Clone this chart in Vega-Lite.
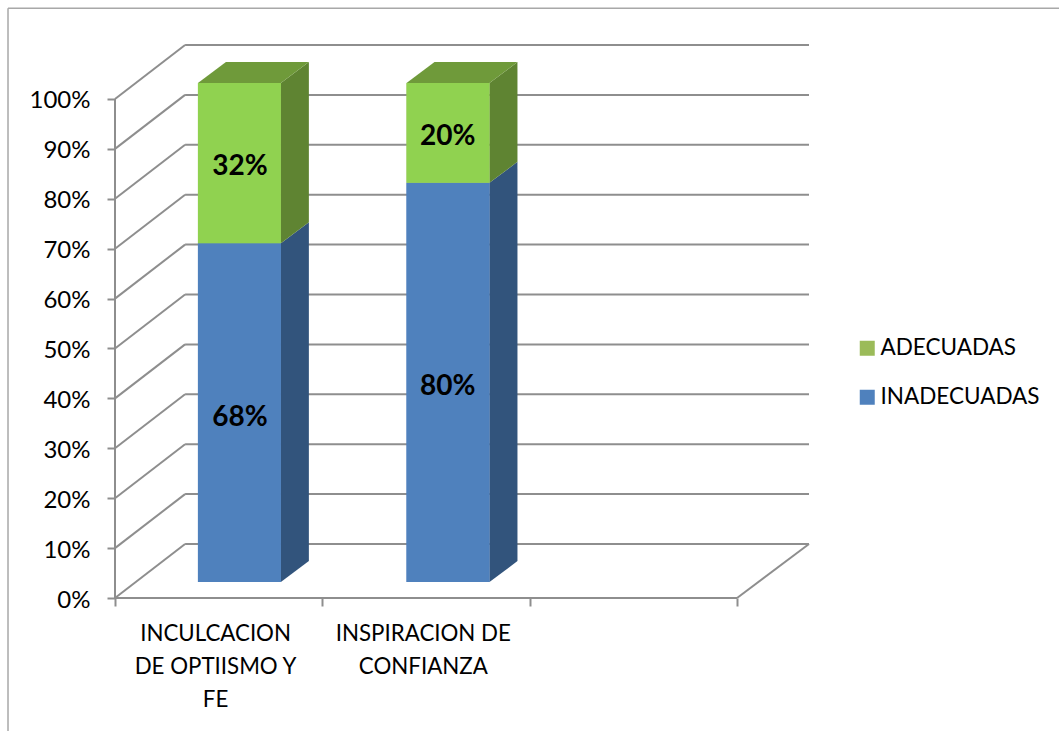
{
"$schema":"https://vega.github.io/schema/vega-lite/v6.json",
"width":694,"height":553,"autosize":"none",
"padding":{"left":115,"top":45,"right":250,"bottom":133},
"background":"white",
"view":{"stroke":null},
"config":{"font":"Lato"},
"datasets":{
"frame":[{"x":-0.516,"x2":-0.516,"y":118.2,"y2":-26.7},{"x":-0.516,"x2":4.553,"y":118.2,"y2":118.2}],
"lines":[
{"x":0,"x2":0,"y":0,"y2":100},{"x":0,"x2":3,"y":0,"y2":0},{"x":3,"x2":3.347,"y":0,"y2":10.82},
{"x":0,"x2":0.338,"y":0,"y2":10.82},{"x":0,"x2":0.338,"y":10,"y2":20.82},{"x":0,"x2":0.338,"y":20,"y2":30.82},{"x":0,"x2":0.338,"y":30,"y2":40.82},{"x":0,"x2":0.338,"y":40,"y2":50.82},{"x":0,"x2":0.338,"y":50,"y2":60.82},{"x":0,"x2":0.338,"y":60,"y2":70.82},{"x":0,"x2":0.338,"y":70,"y2":80.82},{"x":0,"x2":0.338,"y":80,"y2":90.82},{"x":0,"x2":0.338,"y":90,"y2":100.82},{"x":0,"x2":0.338,"y":100,"y2":110.82},
{"x":0.338,"x2":3.347,"y":10.82,"y2":10.82},{"x":0.338,"x2":3.347,"y":20.82,"y2":20.82},{"x":0.338,"x2":3.347,"y":30.82,"y2":30.82},{"x":0.338,"x2":3.347,"y":40.82,"y2":40.82},{"x":0.338,"x2":3.347,"y":50.82,"y2":50.82},{"x":0.338,"x2":3.347,"y":60.82,"y2":60.82},{"x":0.338,"x2":3.347,"y":70.82,"y2":70.82},{"x":0.338,"x2":3.347,"y":80.82,"y2":80.82},{"x":0.338,"x2":3.347,"y":90.82,"y2":90.82},{"x":0.338,"x2":3.347,"y":100.82,"y2":100.82},{"x":0.338,"x2":3.347,"y":110.82,"y2":110.82}
],
"sides":[
{"bar":"a1","face":"INADECUADAS lado","x":0.8,"y":3.2,"y2":71.1},{"bar":"a1","face":"INADECUADAS lado","x":0.935,"y":7.4,"y2":75.3},
{"bar":"a2","face":"ADECUADAS lado","x":0.8,"y":71.1,"y2":103.2},{"bar":"a2","face":"ADECUADAS lado","x":0.935,"y":75.3,"y2":107.4},
{"bar":"b1","face":"INADECUADAS lado","x":1.806,"y":3.2,"y2":83.2},{"bar":"b1","face":"INADECUADAS lado","x":1.941,"y":7.4,"y2":87.4},
{"bar":"b2","face":"ADECUADAS lado","x":1.806,"y":83.2,"y2":103.2},{"bar":"b2","face":"ADECUADAS lado","x":1.941,"y":87.4,"y2":107.4}
],
"tops":[
{"bar":"a","face":"ADECUADAS techo","y":103.2,"x":0.4,"x2":0.8},{"bar":"a","face":"ADECUADAS techo","y":107.4,"x":0.535,"x2":0.935},
{"bar":"b","face":"ADECUADAS techo","y":103.2,"x":1.406,"x2":1.806},{"bar":"b","face":"ADECUADAS techo","y":107.4,"x":1.541,"x2":1.941}
],
"fronts":[
{"categoria":"INCULCACION DE OPTIISMO Y FE","serie":"INADECUADAS","face":"INADECUADAS frente","x":0.4,"x2":0.8,"y":3.2,"y2":71.1},
{"categoria":"INCULCACION DE OPTIISMO Y FE","serie":"ADECUADAS","face":"ADECUADAS frente","x":0.4,"x2":0.8,"y":71.1,"y2":103.2},
{"categoria":"INSPIRACION DE CONFIANZA","serie":"INADECUADAS","face":"INADECUADAS frente","x":1.406,"x2":1.806,"y":3.2,"y2":83.2},
{"categoria":"INSPIRACION DE CONFIANZA","serie":"ADECUADAS","face":"ADECUADAS frente","x":1.406,"x2":1.806,"y":83.2,"y2":103.2}
],
"values":[
{"t":"68%","x":0.603,"y":36.0},{"t":"32%","x":0.603,"y":86.3},{"t":"80%","x":1.605,"y":42.2},{"t":"20%","x":1.605,"y":92.3}
],
"cats":[
{"t":"INCULCACION|DE OPTIISMO Y|FE","x":0.485,"y":-8.62},{"t":"INSPIRACION DE|CONFIANZA","x":1.487,"y":-8.62}
]
},
"encoding":{
"x":{"field":"x","type":"quantitative","title":null,"scale":{"domain":[0,3.347],"nice":false,"zero":false},
"axis":{"values":[0,1,2,3],"labels":false,"domain":false,"grid":false,"ticks":true,"tickSize":8,"tickColor":"#8e8e8e","tickWidth":2,"title":null}},
"y":{"field":"y","type":"quantitative","title":null,"scale":{"domain":[0,110.82],"nice":false,"zero":false},
"axis":{"values":[0,10,20,30,40,50,60,70,80,90,100],"labelExpr":"datum.value+'%'","domain":false,"grid":false,"ticks":true,"tickSize":8,"tickColor":"#8e8e8e","tickWidth":2,"labelPadding":17,"labelOffset":2,"labelFontSize":24,"labelColor":"#000000","labelFont":"Lato","title":null}}
},
"layer":[
{"data":{"name":"frame"},"mark":{"type":"rule","color":"#a8a8a8","strokeWidth":1.5},"encoding":{"x2":{"field":"x2"},"y2":{"field":"y2"}}},
{"data":{"name":"lines"},"mark":{"type":"rule","color":"#8e8e8e","strokeWidth":2},"encoding":{"x2":{"field":"x2"},"y2":{"field":"y2"}}},
{"data":{"name":"fronts"},"mark":{"type":"rect"},"encoding":{"x2":{"field":"x2"},"y2":{"field":"y2"},
"color":{"field":"serie","type":"nominal","scale":{"domain":["ADECUADAS","INADECUADAS"],"range":["#9bbb59","#4f81bd"]},
"legend":{"orient":"none","legendX":741,"legendY":292,"title":null,"symbolType":"square","symbolSize":225,"labelFontSize":22.5,"labelFont":"Lato","labelColor":"#000000","rowPadding":26,"labelOffset":2}}}},
{"data":{"name":"sides"},"mark":{"type":"area","orient":"vertical"},"encoding":{"y2":{"field":"y2"},"detail":{"field":"bar"},"fill":{"field":"face","type":"nominal","legend":null}}},
{"data":{"name":"tops"},"mark":{"type":"area","orient":"horizontal"},"encoding":{"x2":{"field":"x2"},"detail":{"field":"bar"},"fill":{"field":"face","type":"nominal","legend":null}}},
{"data":{"name":"fronts"},"mark":{"type":"rect"},"encoding":{"x2":{"field":"x2"},"y2":{"field":"y2"},
"fill":{"field":"face","type":"nominal","legend":null,"scale":{"domain":["ADECUADAS frente","INADECUADAS frente","ADECUADAS lado","INADECUADAS lado","ADECUADAS techo"],"range":["#90d250","#4f81bd","#5f8432","#32547c","#6f9a3a"]}}}},
{"data":{"name":"values"},"mark":{"type":"text","font":"Lato","fontWeight":"bold","fontSize":28,"color":"#000000","baseline":"middle","align":"center"},"encoding":{"text":{"field":"t"}}},
{"data":{"name":"cats"},"mark":{"type":"text","font":"Lato","fontSize":22.3,"color":"#000000","baseline":"alphabetic","align":"center","lineBreak":"|","lineHeight":33},"encoding":{"text":{"field":"t"}}}
]
}
